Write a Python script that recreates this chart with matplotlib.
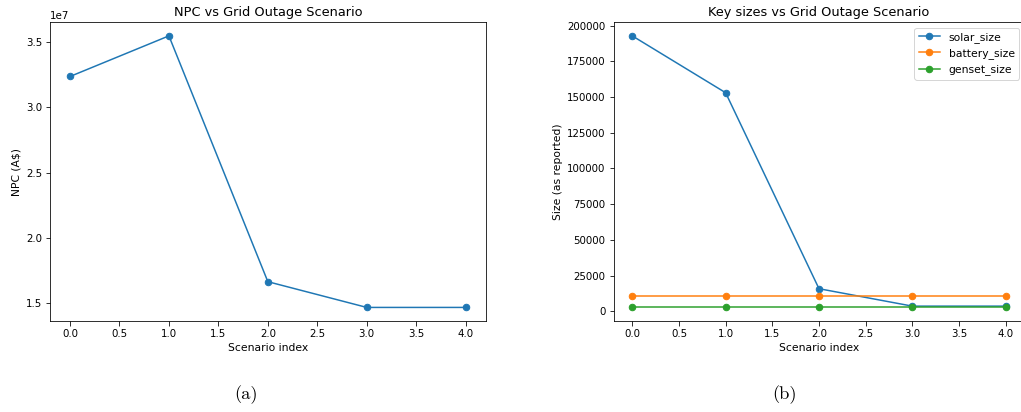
import matplotlib
matplotlib.use("Agg")
import matplotlib.pyplot as plt

# scenario results
scenario_idx = [0, 1, 2, 3, 4]
npc = [3.237e7, 3.548e7, 1.666e7, 1.469e7, 1.469e7]
solar_size = [192800, 153000, 15800, 3600, 3600]
battery_size = [11000, 11000, 11000, 11000, 11000]
genset_size = [2700, 2700, 2700, 2700, 2700]

plt.rcParams['font.size'] = 10.7
plt.rcParams['xtick.labelsize'] = 10.3
plt.rcParams['ytick.labelsize'] = 10.3
plt.rcParams['axes.titlesize'] = 12.9
plt.rcParams['xtick.major.size'] = 4.5
plt.rcParams['ytick.major.size'] = 4.5
plt.rcParams['lines.markersize'] = 6.5

fig = plt.figure(figsize=(1021 / 72, 412 / 72), dpi=72)

# (a) NPC
ax1 = fig.add_axes([50.2 / 1021, 1 - 321 / 412, (485.5 - 50.2) / 1021, (321 - 22.3) / 412])
ax1.plot(scenario_idx, npc, marker='o')
ax1.set_title('NPC vs Grid Outage Scenario')
ax1.set_xlabel('Scenario index')
ax1.set_ylabel('NPC (A$)')

# (b) key sizes -- right edge runs just past the image border, as in the source
ax2 = fig.add_axes([613.6 / 1021, 1 - 321 / 412, (1024.4 - 613.6) / 1021, (321 - 22.3) / 412])
ax2.plot(scenario_idx, solar_size, marker='o', label='solar_size')
ax2.plot(scenario_idx, battery_size, marker='o', label='battery_size')
ax2.plot(scenario_idx, genset_size, marker='o', label='genset_size')
ax2.set_title('Key sizes vs Grid Outage Scenario')
ax2.set_xlabel('Scenario index')
ax2.set_ylabel('Size (as reported)')
ax2.legend(loc='upper right')

# subfigure captions
fig.text(245.5 / 1021, 1 - 395 / 412, '(a)', ha='center', va='center',
         fontsize=18.5, family='cmr10')
fig.text(785 / 1021, 1 - 395 / 412, '(b)', ha='center', va='center',
         fontsize=18.5, family='cmr10')

fig.savefig('out.png', dpi=72)
